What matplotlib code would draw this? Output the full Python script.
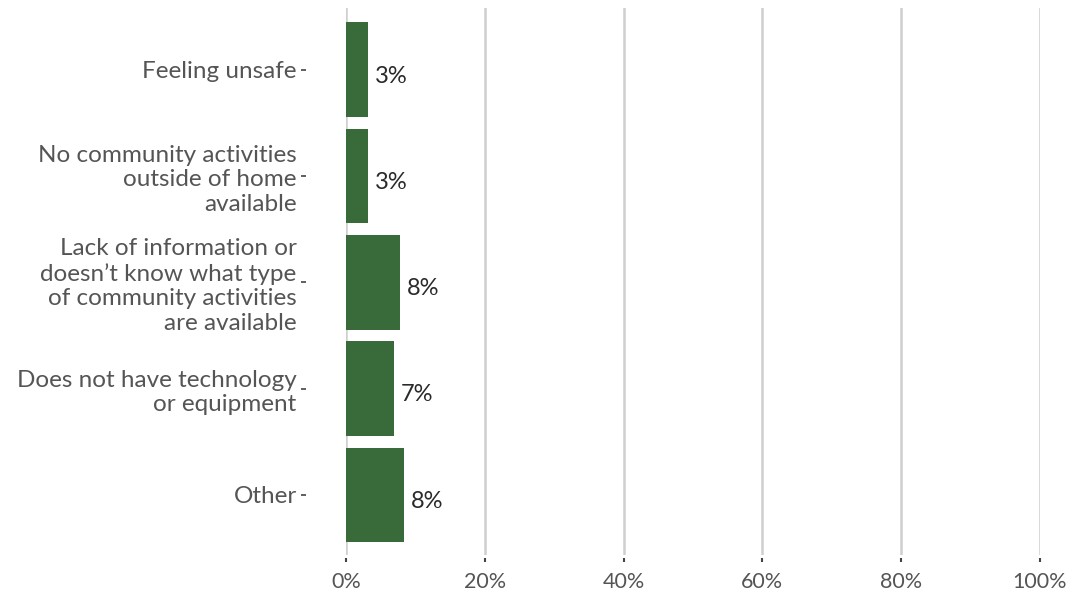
import matplotlib.pyplot as plt
import numpy as np

plt.rcParams['font.family'] = ['Lato', 'DejaVu Sans']

# reasons, top to bottom
reasons = ["Feeling unsafe",
           "No community activities\noutside of home\navailable",
           "Lack of information or\ndoesn\u2019t know what type\nof community activities\nare available",
           "Does not have technology\nor equipment",
           "Other"]
shares = [3.1, 3.1, 7.8, 6.9, 8.4]
share_labels = ["3%", "3%", "8%", "7%", "8%"]
x_ticks = [0, 20, 40, 60, 80, 100]
x_tick_labels = ["0%", "20%", "40%", "60%", "80%", "100%"]

bar_color = '#386a3a'
grid_color = '#cfcfcf'
text_color = '#555555'

fig = plt.figure(figsize=(10.67, 5.98), dpi=100)
ax = fig.add_axes([346/1067, 1-555/598, (1040-346)/1067, (555-8)/598])

y = np.arange(len(reasons))
ax.barh(y, shares, height=0.89, color=bar_color, zorder=3)

for yi, v, lab in zip(y, shares, share_labels):
    ax.text(v + 1.0, yi + 0.06, lab, va='center', ha='left',
            fontsize=17, color='#2a2a2a', zorder=4)

ax.set_xlim(0, 100)
ax.set_ylim(len(reasons) - 1 + 0.565, -0.58)

ax.set_xticks(x_ticks)
ax.set_xticklabels(x_tick_labels)
ax.set_yticks(y)
ax.set_yticklabels(reasons, linespacing=1.17)

ax.grid(axis='x', color=grid_color, linewidth=1.8, zorder=0)
ax.grid(axis='y', visible=False)

for s in ['top', 'right', 'bottom', 'left']:
    ax.spines[s].set_visible(False)
ax.spines['left'].set_position(('outward', 29))
ax.spines['bottom'].set_position(('outward', 2))

ax.tick_params(axis='y', length=3.5, width=1.2, color='#444444', pad=3,
               labelsize=17.5, labelcolor=text_color)
ax.tick_params(axis='x', length=3, width=1.5, color='#444444', pad=7,
               labelsize=15.5, labelcolor=text_color)

fig.savefig('out.png', dpi=100)
